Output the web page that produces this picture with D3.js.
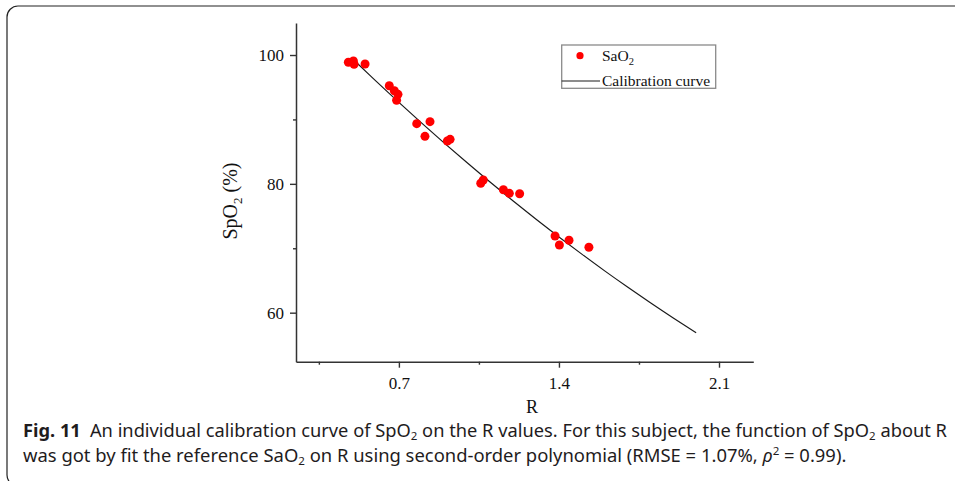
<!DOCTYPE html>
<html>
<head>
<meta charset="utf-8">
<script src="https://cdn.jsdelivr.net/npm/d3@7/dist/d3.min.js"></script>
<style>
  html, body { margin: 0; padding: 0; background: #fff; }
  svg { display: block; }
</style>
</head>
<body>
<svg id="fig" width="955" height="481"></svg>
<script>
// Measured SaO2 reference samples against the ratio R
const sampleR = [0.479, 0.501, 0.504, 0.552, 0.658, 0.680, 0.696, 0.690, 0.778, 0.836, 0.814,
                 0.912, 0.924, 1.058, 1.069, 1.157, 1.183, 1.228, 1.383, 1.402, 1.444, 1.531];
const sampleSaO2 = [98.87, 99.07, 98.56, 98.60, 95.23, 94.46, 93.90, 92.97, 89.34, 89.65, 87.38,
                    86.65, 86.91, 80.09, 80.60, 79.09, 78.53, 78.47, 71.91, 70.51, 71.24, 70.15];

// Second-order calibration curve, sampled along R
const curveR = [0.52, 0.6, 0.7, 0.8, 0.9, 1.0, 1.1, 1.2, 1.3, 1.4, 1.5, 1.6, 1.7, 1.8, 1.9, 2.0];
const curveSpO2 = [98.64, 95.95, 92.65, 89.43, 86.29, 83.23, 80.24, 77.34, 74.51, 71.76,
                   69.09, 66.49, 63.98, 61.54, 59.18, 56.90];

// Axis ticks
const xMajorTicks = [0.7, 1.4, 2.1];
const xMinorTicks = [0.35, 1.05, 1.75];
const yMajorTicks = [60, 80, 100];
const yMinorTicks = [70, 90];

const svg = d3.select("#fig");
const serif = "'Liberation Serif', 'Times New Roman', serif";
const sans = "'Noto Sans', 'Open Sans', sans-serif";

// Outer figure frame (rounded left corners, open to the right/bottom)
svg.append("rect")
  .attr("x", 7).attr("y", 6)
  .attr("width", 1000).attr("height", 480)
  .attr("rx", 11).attr("ry", 11)
  .attr("fill", "none")
  .attr("stroke", "#222")
  .attr("stroke-width", 1.2);

const x = d3.scaleLinear().domain([0.25, 2.25]).range([296, 753.3]);
const y = d3.scaleLinear().domain([52.39, 104.97]).range([361.7, 23]);

const axisColor = "#333";

// Bottom axis
const gx = svg.append("g").attr("transform", `translate(0,${y.range()[0]})`);
gx.call(d3.axisBottom(x).tickValues(xMajorTicks).tickFormat(d3.format(".1f"))
  .tickSizeOuter(0).tickSizeInner(6).tickPadding(9));
gx.append("g").call(d3.axisBottom(x).tickValues(xMinorTicks).tickFormat("")
  .tickSizeOuter(0).tickSizeInner(3))
  .select(".domain").remove();

// Left axis
const gy = svg.append("g").attr("transform", `translate(${x.range()[0]},0)`);
gy.call(d3.axisLeft(y).tickValues(yMajorTicks).tickFormat(d3.format("d"))
  .tickSizeOuter(0).tickSizeInner(6).tickPadding(6));
gy.append("g").call(d3.axisLeft(y).tickValues(yMinorTicks).tickFormat("")
  .tickSizeOuter(0).tickSizeInner(3))
  .select(".domain").remove();

[gx, gy].forEach(g => {
  g.selectAll(".domain").attr("stroke", axisColor).attr("stroke-width", 1.5);
  g.selectAll(".tick line").attr("stroke", axisColor).attr("stroke-width", 1.4);
  g.selectAll(".tick text").attr("fill", "#111")
    .style("font-family", serif).style("font-size", "17px");
});

// Axis titles
svg.append("text")
  .attr("x", 532).attr("y", 413)
  .attr("text-anchor", "middle")
  .style("font-family", serif).style("font-size", "18px").attr("fill", "#111")
  .text("R");

const yTitle = svg.append("text")
  .attr("transform", "translate(237,201) rotate(-90)")
  .attr("text-anchor", "middle")
  .style("font-family", serif).style("font-size", "20px").attr("fill", "#111");
yTitle.append("tspan").text("SpO");
yTitle.append("tspan").attr("dy", 5).style("font-size", "13px").text("2");
yTitle.append("tspan").attr("dy", -5).text(" (%)");

// Calibration curve
const line = d3.line()
  .x((d, i) => x(curveR[i]))
  .y(d => y(d))
  .curve(d3.curveCatmullRom);
svg.append("path")
  .datum(curveSpO2)
  .attr("d", line)
  .attr("fill", "none")
  .attr("stroke", "#1a1a1a")
  .attr("stroke-width", 1.2);

// Reference samples
svg.append("g").selectAll("circle")
  .data(sampleSaO2)
  .join("circle")
  .attr("cx", (d, i) => x(sampleR[i]))
  .attr("cy", d => y(d))
  .attr("r", 4.5)
  .attr("fill", "#ff0000");

// Legend
const lg = svg.append("g");
lg.append("rect")
  .attr("x", 561.7).attr("y", 45)
  .attr("width", 154).attr("height", 43.3)
  .attr("fill", "#fff")
  .attr("stroke", "#8a8a8a").attr("stroke-width", 1.3);
lg.append("circle").attr("cx", 580).attr("cy", 55.7).attr("r", 3.6).attr("fill", "#ff0000");
const l1 = lg.append("text").attr("x", 602).attr("y", 61)
  .style("font-family", serif).style("font-size", "15.5px").attr("fill", "#111");
l1.append("tspan").text("SaO");
l1.append("tspan").attr("dy", 4).style("font-size", "10.5px").text("2");
lg.append("line")
  .attr("x1", 561.7).attr("x2", 600).attr("y1", 81).attr("y2", 81)
  .attr("stroke", "#1a1a1a").attr("stroke-width", 1.2);
lg.append("text").attr("x", 602).attr("y", 85.5)
  .style("font-family", serif).style("font-size", "15.5px").attr("fill", "#111")
  .text("Calibration curve");

// Caption, two lines, each compressed to its set width
function captionLine(parts, baseline, width) {
  const g = svg.append("g");
  const t = g.append("text")
    .style("font-family", sans).style("font-size", "17.5px").attr("fill", "#1f1c1d");
  parts.forEach(p => {
    const s = t.append("tspan").text(p.t);
    if (p.bold) s.style("font-weight", "bold");
    if (p.italic) s.style("font-style", "italic");
    if (p.sub) s.attr("dy", 2.5).style("font-size", "11px");
    if (p.sup) s.attr("dy", -7).style("font-size", "11px");
    if (p.back) s.attr("dy", p.back);
  });
  const w = t.node().getComputedTextLength();
  g.attr("transform", `translate(23,${baseline}) scale(${width / w},1)`);
}

captionLine([
  { t: "Fig. 11", bold: true },
  { t: "\u2002An individual calibration curve of SpO" },
  { t: "2", sub: true },
  { t: " on the R values. For this subject, the function of SpO", back: -2.5 },
  { t: "2", sub: true },
  { t: " about R", back: -2.5 }
], 437, 925);

captionLine([
  { t: "was got by fit the reference SaO" },
  { t: "2", sub: true },
  { t: " on R using second-order polynomial (RMSE = 1.07%, ", back: -2.5 },
  { t: "\u03C1", italic: true },
  { t: "2", sup: true },
  { t: " = 0.99).", back: 7 }
], 462, 824);
</script>
</body>
</html>
